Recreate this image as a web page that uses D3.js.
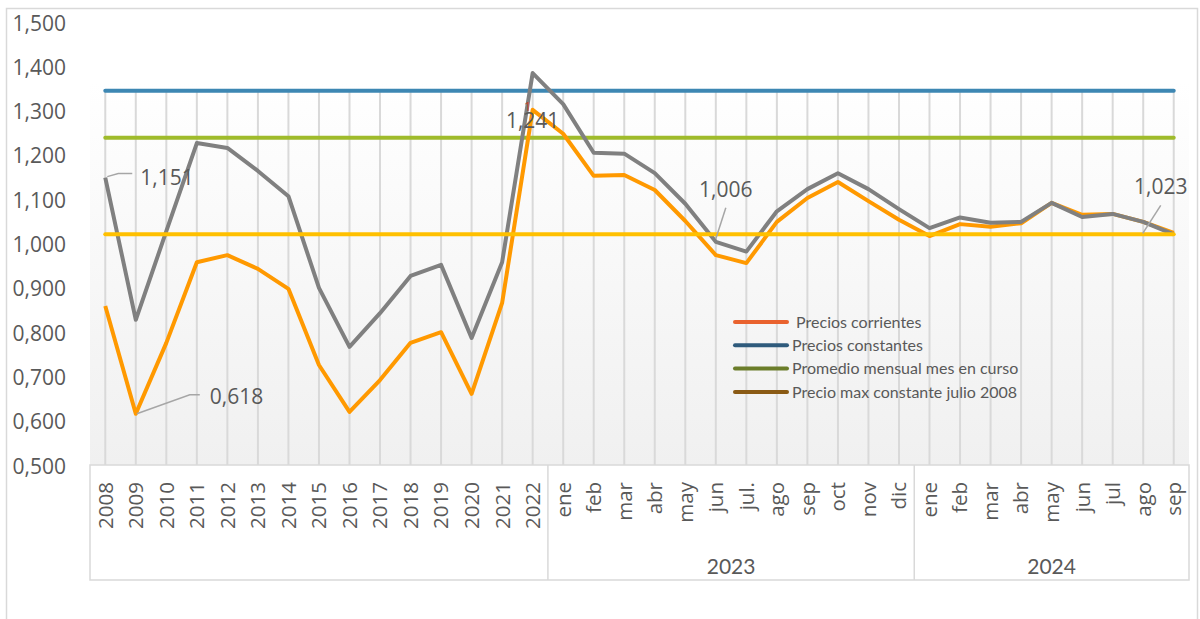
<!DOCTYPE html>
<html>
<head>
<meta charset="utf-8">
<script src="https://cdn.jsdelivr.net/npm/d3@7"></script>
<style>
  body { margin: 0; background: #fff; }
  svg { display: block; }
</style>
</head>
<body>
<svg id="chart" width="1200" height="619"></svg>
<script>
// categorias del eje x (anios, luego meses 2023 y 2024)
const categories = ["2008","2009","2010","2011","2012","2013","2014","2015","2016","2017","2018","2019","2020","2021","2022",
  "ene","feb","mar","abr","may","jun","jul.","ago","sep","oct","nov","dic",
  "ene","feb","mar","abr","may","jun","jul","ago","sep"];
const groups = [
  { name: "", from: 0, to: 14 },
  { name: "2023", from: 15, to: 26 },
  { name: "2024", from: 27, to: 35 }
];

// Precios corrientes (naranja)
const corrientes = [0.861, 0.618, 0.778, 0.960, 0.976, 0.945, 0.900, 0.728, 0.622, 0.694, 0.778, 0.802, 0.663, 0.868, 1.304,
  1.250, 1.155, 1.157, 1.123, 1.053, 0.976, 0.958, 1.051, 1.105, 1.141, 1.098, 1.056,
  1.019, 1.046, 1.040, 1.048, 1.094, 1.067, 1.069, 1.051, 1.026];
// Precios constantes (gris)
const constantes = [1.151, 0.830, 1.030, 1.229, 1.218, 1.166, 1.109, 0.902, 0.769, 0.845, 0.929, 0.954, 0.789, 0.960, 1.387,
  1.317, 1.207, 1.205, 1.161, 1.092, 1.006, 0.984, 1.075, 1.125, 1.161, 1.125, 1.080,
  1.037, 1.061, 1.049, 1.051, 1.094, 1.062, 1.069, 1.051, 1.023];

// lineas horizontales de referencia
const refLines = [
  { name: "Precios constantes", value: 1.347, color: "#3d87b3" },
  { name: "Promedio mensual", value: 1.241, color: "#9fbb2b" },
  { name: "Precio max", value: 1.023, color: "#ffc000" }
];

const yTicks = [0.5, 0.6, 0.7, 0.8, 0.9, 1.0, 1.1, 1.2, 1.3, 1.4, 1.5];

const legendItems = [
  { label: " Precios corrientes", color: "#e9622e" },
  { label: "Precios constantes", color: "#2f5b7c" },
  { label: "Promedio mensual mes en curso", color: "#6b7d2a" },
  { label: "Precio max constante julio 2008", color: "#8a5a14" }
];

// etiquetas de datos: serie, indice, texto
const dataLabels = [
  { series: "c", i: 0, text: "1,151" },
  { series: "o", i: 1, text: "0,618" },
  { series: "c", i: 20, text: "1,006" },
  { series: "c", i: 35, text: "1,023" }
];

const fmt = d3.formatLocale({ decimal: ",", thousands: ".", grouping: [3], currency: ["", ""] }).format(".3f");

const svg = d3.select("#chart");
const plotTop = 82, plotBottom = 465, plotLeft = 90, plotRight = 1189;

const x = d3.scaleBand().domain(d3.range(categories.length)).range([plotLeft, plotRight]);
const cx = i => x(i) + x.bandwidth() / 2;
const y = d3.scaleLinear().domain([0.5, 1.5]).range([466, 23]);

// borde del grafico
svg.append("rect")
  .attr("x", 6.5).attr("y", 8.5).attr("width", 1191).attr("height", 640)
  .attr("fill", "#fff").attr("stroke", "#d9d9d9").attr("stroke-width", 1.5);

// fondo degradado del area de trazado
const defs = svg.append("defs");
const grad = defs.append("linearGradient").attr("id", "bg").attr("x1", 0).attr("y1", 0).attr("x2", 0).attr("y2", 1);
grad.append("stop").attr("offset", "0%").attr("stop-color", "#ffffff");
grad.append("stop").attr("offset", "100%").attr("stop-color", "#f0f0f0");

svg.append("rect")
  .attr("x", plotLeft).attr("y", plotTop)
  .attr("width", plotRight - plotLeft).attr("height", plotBottom - plotTop)
  .attr("fill", "url(#bg)");

// lineas de cuadricula verticales
svg.append("g").selectAll("line")
  .data(d3.range(categories.length))
  .enter().append("line")
  .attr("x1", d => cx(d)).attr("x2", d => cx(d))
  .attr("y1", y(1.347)).attr("y2", plotBottom)
  .attr("stroke", "#d9d9d9").attr("stroke-width", 2);

// eje y (solo etiquetas)
svg.append("g").selectAll("text")
  .data(yTicks)
  .enter().append("text")
  .attr("x", 66).attr("y", d => y(d))
  .attr("dy", "0.36em")
  .attr("text-anchor", "end")
  .style("font-family", "'Open Sans', sans-serif")
  .style("font-size", "21px")
  .style("fill", "#595959")
  .text(d => fmt(d));

// zona de etiquetas del eje x
svg.append("rect")
  .attr("x", plotLeft).attr("y", plotBottom)
  .attr("width", plotRight - plotLeft).attr("height", 115)
  .attr("fill", "#fff").attr("stroke", "#d9d9d9").attr("stroke-width", 1.5);

svg.append("g").selectAll("line")
  .data(groups.slice(1))
  .enter().append("line")
  .attr("x1", d => x(d.from)).attr("x2", d => x(d.from))
  .attr("y1", plotBottom).attr("y2", plotBottom + 115)
  .attr("stroke", "#d9d9d9").attr("stroke-width", 1.5);

svg.append("g").selectAll("text")
  .data(categories)
  .enter().append("text")
  .attr("transform", (d, i) => `translate(${cx(i)},482) rotate(-90)`)
  .attr("dy", "0.36em")
  .attr("text-anchor", "end")
  .style("font-family", "'Open Sans', sans-serif")
  .style("font-size", "20.5px")
  .style("fill", "#595959")
  .text(d => d);

svg.append("g").selectAll("text")
  .data(groups.filter(g => g.name))
  .enter().append("text")
  .attr("x", d => (x(d.from) + x(d.to) + x.bandwidth()) / 2)
  .attr("y", 566)
  .attr("dy", "0.36em")
  .attr("text-anchor", "middle")
  .style("font-family", "Lato, sans-serif")
  .style("font-size", "21px")
  .style("fill", "#595959")
  .text(d => d.name);

// lineas de referencia bajo las series
const drawRef = r => svg.append("line")
  .attr("x1", cx(0)).attr("x2", cx(categories.length - 1))
  .attr("y1", y(r.value)).attr("y2", y(r.value))
  .attr("stroke", r.color).attr("stroke-width", 4).attr("stroke-linecap", "round");

drawRef(refLines[0]);
drawRef(refLines[1]);

const line = d3.line().x((d, i) => cx(i)).y(d => y(d));

svg.append("path")
  .datum(corrientes)
  .attr("d", line)
  .attr("fill", "none").attr("stroke", "#ff9900")
  .attr("stroke-width", 4).attr("stroke-linejoin", "round");

svg.append("path")
  .datum(constantes)
  .attr("d", line)
  .attr("fill", "none").attr("stroke", "#808080")
  .attr("stroke-width", 4).attr("stroke-linejoin", "round");

drawRef(refLines[2]);

// etiquetas de datos con lineas guia
const labelFont = "'Open Sans', sans-serif";
function addLabel(px, py, pts, tx, ty, anchor, text) {
  if (pts) {
    svg.append("path")
      .attr("d", d3.line()(pts))
      .attr("fill", "none").attr("stroke", "#a6a6a6").attr("stroke-width", 1.5);
  }
  svg.append("text")
    .attr("x", tx).attr("y", ty).attr("dy", "0.36em")
    .attr("text-anchor", anchor)
    .style("font-family", labelFont).style("font-size", "21px").style("fill", "#595959")
    .text(text);
}

{
  const p = dataLabels[0], px = cx(p.i), py = y(constantes[p.i]);
  addLabel(px, py, [[px + 2, py - 1], [px + 13, py - 4], [px + 27, py - 4]], px + 35, py, "start", p.text);
}
{
  const p = dataLabels[1], px = cx(p.i), py = y(corrientes[p.i]);
  addLabel(px, py, [[px + 1, py], [px + 54, py - 19], [px + 64, py - 19]], px + 74, py - 17, "start", p.text);
}
{
  const p = dataLabels[2], px = cx(p.i), py = y(constantes[p.i]);
  addLabel(px, py, [[px, py - 3], [px + 10, py - 34]], px + 10, py - 52, "middle", p.text);
}
{
  const p = dataLabels[3], px = cx(p.i), py = y(constantes[p.i]);
  addLabel(px, py, [[px - 31, py - 1], [px - 13, py - 29]], px - 13, py - 48, "middle", p.text);
}
// etiqueta 1,241 de la serie corriente (2022)
svg.append("text")
  .attr("x", cx(14) - 5).attr("y", y(1.304) - 4)
  .attr("text-anchor", "middle").attr("dy", "0.36em")
  .style("font-family", labelFont).style("font-size", "13px").style("fill", "#c0442a")
  .text("1");
addLabel(0, 0, null, cx(14), y(1.241) - 17, "middle", "1,241");

// leyenda
const legend = svg.append("g").attr("transform", "translate(735,322)");
legendItems.forEach((d, i) => {
  const g = legend.append("g").attr("transform", `translate(0,${i * 23.3})`);
  g.append("line")
    .attr("x1", 0).attr("x2", 52)
    .attr("stroke", d.color).attr("stroke-width", 4).attr("stroke-linecap", "round");
  g.append("text")
    .attr("x", 57).attr("dy", "0.36em")
    .style("font-family", "Lato, sans-serif").style("font-size", "16px").style("fill", "#595959")
    .style("white-space", "pre")
    .text(d.label);
});
</script>
</body>
</html>
